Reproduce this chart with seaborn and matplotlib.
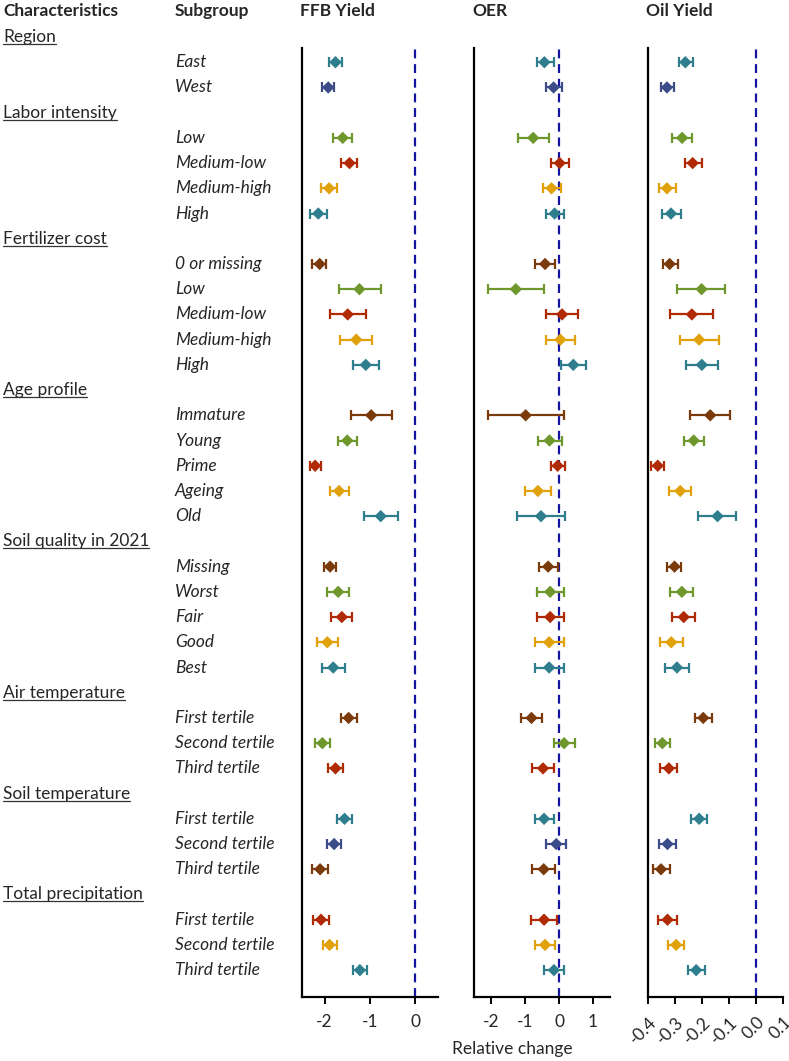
import numpy as np
import pandas as pd
import matplotlib.pyplot as plt
import seaborn as sns
from matplotlib.lines import Line2D

# Groups and subgroups (rows, top to bottom)
groups = ["Region", "Labor intensity", "Fertilizer cost", "Age profile",
          "Soil quality in 2021", "Air temperature", "Soil temperature",
          "Total precipitation"]
subgroups = [
    ["East", "West"],
    ["Low", "Medium-low", "Medium-high", "High"],
    ["0 or missing", "Low", "Medium-low", "Medium-high", "High"],
    ["Immature", "Young", "Prime", "Ageing", "Old"],
    ["Missing", "Worst", "Fair", "Good", "Best"],
    ["First tertile", "Second tertile", "Third tertile"],
    ["First tertile", "Second tertile", "Third tertile"],
    ["First tertile", "Second tertile", "Third tertile"],
]
row_colors = [
    "teal", "slate",
    "green", "red", "gold", "teal",
    "brown", "green", "red", "gold", "teal",
    "brown", "green", "red", "gold", "teal",
    "brown", "green", "red", "gold", "teal",
    "brown", "green", "red",
    "teal", "slate", "brown",
    "red", "gold", "teal",
]

# FFB yield: estimate, lower, upper
ffb_est = [-1.76, -1.92, -1.60, -1.45, -1.90, -2.14,
           -2.11, -1.23, -1.49, -1.30, -1.09,
           -0.97, -1.50, -2.21, -1.68, -0.76,
           -1.88, -1.70, -1.62, -1.94, -1.81,
           -1.47, -2.05, -1.76,
           -1.56, -1.79, -2.10,
           -2.08, -1.89, -1.22]
ffb_lo = [-1.90, -2.05, -1.81, -1.63, -2.07, -2.33,
          -2.27, -1.69, -1.88, -1.66, -1.38,
          -1.42, -1.70, -2.33, -1.89, -1.13,
          -2.02, -1.94, -1.85, -2.17, -2.05,
          -1.63, -2.21, -1.93,
          -1.72, -1.94, -2.28,
          -2.25, -2.04, -1.38]
ffb_hi = [-1.61, -1.79, -1.40, -1.28, -1.73, -1.95,
          -1.96, -0.76, -1.08, -0.95, -0.79,
          -0.52, -1.29, -2.08, -1.46, -0.38,
          -1.74, -1.47, -1.39, -1.70, -1.56,
          -1.29, -1.89, -1.59,
          -1.40, -1.63, -1.93,
          -1.90, -1.73, -1.07]

# OER
oer_est = [-0.43, -0.16, -0.76, 0.02, -0.22, -0.13,
           -0.41, -1.27, 0.09, 0.04, 0.42,
           -0.98, -0.28, -0.04, -0.62, -0.53,
           -0.32, -0.26, -0.26, -0.29, -0.29,
           -0.81, 0.15, -0.47,
           -0.44, -0.08, -0.45,
           -0.44, -0.41, -0.15]
oer_lo = [-0.65, -0.38, -1.21, -0.25, -0.47, -0.38,
          -0.72, -2.10, -0.38, -0.38, 0.07,
          -2.10, -0.63, -0.25, -1.00, -1.25,
          -0.59, -0.64, -0.65, -0.70, -0.71,
          -1.11, -0.14, -0.78,
          -0.71, -0.38, -0.78,
          -0.82, -0.70, -0.43]
oer_hi = [-0.16, 0.09, -0.30, 0.30, 0.07, 0.16,
          -0.11, -0.43, 0.56, 0.46, 0.79,
          0.14, 0.10, 0.17, -0.23, 0.19,
          -0.03, 0.14, 0.16, 0.15, 0.15,
          -0.49, 0.46, -0.16,
          -0.15, 0.20, -0.13,
          -0.07, -0.13, 0.15]

# Oil yield
oil_est = [-0.262, -0.330, -0.274, -0.235, -0.330, -0.315,
           -0.320, -0.202, -0.238, -0.211, -0.201,
           -0.170, -0.231, -0.364, -0.281, -0.143,
           -0.302, -0.275, -0.268, -0.314, -0.293,
           -0.196, -0.347, -0.323,
           -0.211, -0.328, -0.352,
           -0.328, -0.296, -0.222]
oil_lo = [-0.286, -0.352, -0.310, -0.265, -0.360, -0.349,
          -0.346, -0.293, -0.319, -0.283, -0.260,
          -0.243, -0.267, -0.388, -0.323, -0.216,
          -0.328, -0.320, -0.312, -0.356, -0.337,
          -0.228, -0.375, -0.354,
          -0.242, -0.358, -0.383,
          -0.363, -0.327, -0.252]
oil_hi = [-0.235, -0.304, -0.238, -0.201, -0.296, -0.278,
          -0.290, -0.115, -0.159, -0.138, -0.141,
          -0.098, -0.194, -0.340, -0.240, -0.073,
          -0.277, -0.232, -0.226, -0.272, -0.247,
          -0.163, -0.317, -0.294,
          -0.181, -0.298, -0.320,
          -0.294, -0.267, -0.191]

palette = {"teal": "#2E7E8E", "slate": "#3C4C88", "green": "#6E972C",
           "red": "#B02A05", "gold": "#E0A10A", "brown": "#7A3A0C"}

sns.set_style("ticks")
plt.rcParams['font.family'] = ['Lato', 'DejaVu Sans']

# row positions: headers take a row each
header_rows, sub_rows, sub_names = [], [], []
pos = 0
for g, subs in zip(groups, subgroups):
    header_rows.append(pos)
    pos += 1
    for s in subs:
        sub_rows.append(pos)
        sub_names.append(s)
        pos += 1

df = pd.DataFrame({
    "y": sub_rows, "name": sub_names, "color": row_colors,
    "ffb": ffb_est, "ffb_lo": ffb_lo, "ffb_hi": ffb_hi,
    "oer": oer_est, "oer_lo": oer_lo, "oer_hi": oer_hi,
    "oil": oil_est, "oil_lo": oil_lo, "oil_hi": oil_hi,
})

W, H = 789, 1061
fig = plt.figure(figsize=(W / 100, H / 100), dpi=100)
top_px, bot_px = 48, 997
row0_px, row_step = 37, 25.22
ylim = ((bot_px - row0_px) / row_step, (top_px - row0_px) / row_step)
ax_b = 1 - bot_px / H
ax_h = (bot_px - top_px) / H
fs = 12.5

panels = [
    ("FFB Yield", "ffb", 302, 437.7, (-2.5, 0.5), [-2, -1, 0], ["-2", "-1", "0"], 0),
    ("OER", "oer", 474, 610, (-2.5, 1.5), [-2, -1, 0, 1], ["-2", "-1", "0", "1"], 0),
    ("Oil Yield", "oil", 648, 783.3, (-0.4, 0.1), [-0.4, -0.3, -0.2, -0.1, 0.0, 0.1],
     ["-0.4", "-0.3", "-0.2", "-0.1", "0.0", "0.1"], 45),
]

for title, key, x0, x1, xlim, ticks, tlabels, rot in panels:
    ax = fig.add_axes([x0 / W, ax_b, (x1 - x0) / W, ax_h])
    ax.axvline(0, color="#1414A0", lw=1.6, ls=(0, (4, 2.6)), zorder=1)
    for c, sub in df.groupby("color"):
        ax.errorbar(sub[key], sub["y"],
                    xerr=[sub[key] - sub[key + "_lo"], sub[key + "_hi"] - sub[key]],
                    fmt="none", ecolor=palette[c], elinewidth=1.6,
                    capsize=3.5, capthick=1.6, zorder=2)
    sns.scatterplot(data=df, x=key, y="y", hue="color", palette=palette,
                    marker="D", s=40, edgecolor="none", legend=False, ax=ax, zorder=3)
    ax.set_xlim(*xlim)
    ax.set_ylim(*ylim)
    ax.set_xticks(ticks)
    if rot:
        ax.set_xticklabels(tlabels, rotation=rot, ha="right", rotation_mode="anchor")
    else:
        ax.set_xticklabels(tlabels)
    ax.set_yticks([])
    ax.set_xlabel("")
    ax.set_ylabel("")
    sns.despine(ax=ax)
    for sp in ["left", "bottom"]:
        ax.spines[sp].set_linewidth(1.6)
        ax.spines[sp].set_color("black")
    ax.tick_params(axis="x", length=5, width=1.4, labelsize=fs, pad=7, color="black")
    fig.text((x0 - 2) / W, 1 - 11 / H, title, fontsize=fs, fontweight="bold",
             ha="left", va="center")

fig.text(512 / W, 1 - 1049 / H, "Relative change", fontsize=fs, ha="center", va="center")

# left text columns
ax_lab = fig.add_axes([0, ax_b, 300 / W, ax_h])
ax_lab.set_xlim(0, 300)
ax_lab.set_ylim(*ylim)
ax_lab.axis("off")
fig.text(3 / W, 1 - 11 / H, "Characteristics", fontsize=fs, fontweight="bold",
         ha="left", va="center")
fig.text(175 / W, 1 - 11 / H, "Subgroup", fontsize=fs, fontweight="bold",
         ha="left", va="center")
head_texts = []
for g, r in zip(groups, header_rows):
    head_texts.append(ax_lab.text(3, r, g, fontsize=fs, ha="left", va="center",
                                  clip_on=False))
for s, r in zip(sub_names, sub_rows):
    ax_lab.text(175, r, s, fontsize=fs, style="italic", ha="left", va="center",
                clip_on=False)

# underline the group headers
fig.canvas.draw()
renderer = fig.canvas.get_renderer()
for t in head_texts:
    bb = t.get_window_extent(renderer)
    yline = bb.y0 + 1
    fig.add_artist(Line2D([bb.x0 / W, bb.x1 / W], [yline / H, yline / H],
                          transform=fig.transFigure, color="#333333", lw=0.9))

fig.savefig("out.png", dpi=100)
